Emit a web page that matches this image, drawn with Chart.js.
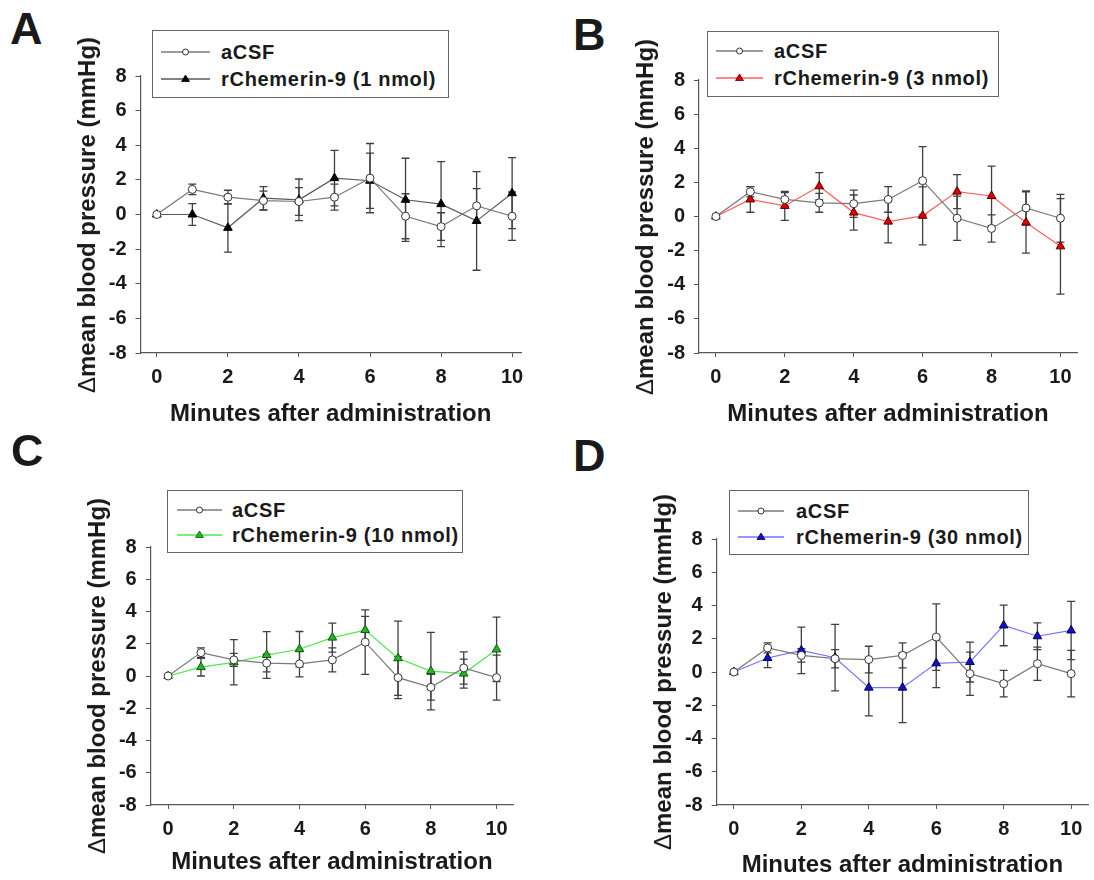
<!DOCTYPE html>
<html>
<head>
<meta charset="utf-8">
<script src="https://cdn.jsdelivr.net/npm/chart.js@4.4.1/dist/chart.umd.min.js"></script>
<style>
  body { margin: 0; background: #fff; }
  #fig { position: relative; width: 1094px; height: 880px; overflow: hidden;
         font-family: "Liberation Sans", Arial, sans-serif; color: #1a1a1a; }
  canvas { position: absolute; }
  .letter { position: absolute; font-weight: bold; font-size: 45px; line-height: 1; }
  .ytitle { position: absolute; font-weight: bold; font-size: 24px; white-space: nowrap;
            transform: translate(-50%, -50%) rotate(-90deg); line-height: 1; }
  .ytitle .d { font-weight: normal; }
  .legend { position: absolute; box-sizing: border-box; border: 1.5px solid #666; background: #fff; }
  .legend .row { position: absolute; left: 0; right: 0; height: 24px; margin-top: -12px; }
  .legend svg { position: absolute; top: 5px; }
  .legend span { position: absolute; top: 0; line-height: 24px; font-weight: bold;
                 font-size: 20px; letter-spacing: 0.7px; white-space: nowrap; }
</style>
</head>
<body>
<div id="fig"></div>
<script>
// minutes after administration
const minutes = [0, 1, 2, 3, 4, 5, 6, 7, 8, 9, 10];
const xTicks = [0, 2, 4, 6, 8, 10];
const yTicks = [-8, -6, -4, -2, 0, 2, 4, 6, 8];

// aCSF control (same in every panel)
const acsfMean = [0, 1.45, 1.0, 0.8, 0.75, 1.0, 2.1, -0.1, -0.7, 0.5, -0.1];
const acsfErr  = [0, 0.3, 0.4, 0.55, 0.8, 0.75, 2.0, 1.3, 0.8, 1.0, 1.4];

// rChemerin-9 doses
const chem1Mean  = [0, 0.0, -0.77, 0.94, 0.85, 2.1, 1.95, 0.85, 0.6, -0.37, 1.23];
const chem1Err   = [0, 0.63, 1.4, 0.67, 1.2, 1.6, 1.6, 2.4, 2.45, 2.85, 2.05];
const chem3Mean  = [0, 1.0, 0.62, 1.77, 0.23, -0.3, 0.04, 1.46, 1.2, -0.35, -1.75];
const chem3Err   = [0, 0.75, 0.85, 0.8, 1.03, 1.25, 1.7, 1.0, 1.75, 1.8, 2.8];
const chem10Mean = [0, 0.55, 0.85, 1.3, 1.66, 2.38, 2.85, 1.1, 0.3, 0.15, 1.65];
const chem10Err  = [0, 0.55, 1.4, 1.45, 1.1, 0.9, 0.85, 2.3, 2.4, 0.9, 2.0];
const chem30Mean = [0, 0.84, 1.3, 0.86, -0.94, -0.94, 0.52, 0.6, 2.8, 2.15, 2.5];
const chem30Err  = [0, 0.58, 1.4, 2.0, 1.7, 2.1, 1.46, 1.2, 1.22, 0.8, 1.75];

const FONT = '"Liberation Sans", Arial, sans-serif';
const fig = document.getElementById('fig');

const acsfStyle = { label: 'aCSF', line: '#7a7a7a', fill: '#ffffff', edge: '#333333', shape: 'circle', r: 4 };

const panels = [
  { letter: 'A', lx: 10, ly: 6, left: 0, top: 0, w: 550, h: 430,
    area: { l: 140.5, t: 76, r: 521, b: 353 }, xMin: -0.46, xMax: 10.25, xTitlePad: 1,
    legend: { x: 152, y: 30, w: 297, h: 68, rows: [21, 48], lineX: 8, lineW: 49, textX: 68 },
    mean: chem1Mean, err: chem1Err,
    style: { label: 'rChemerin-9 (1 nmol)', line: '#5a5a5a', fill: '#000000', edge: '#000000', shape: 'triangle', r: 5 } },
  { letter: 'B', lx: 573, ly: 12, left: 550, top: 0, w: 544, h: 430,
    area: { l: 149, t: 80, r: 527, b: 353 }, xMin: -0.49, xMax: 10.48, xTitlePad: 1,
    legend: { x: 707, y: 31, w: 292, h: 66, rows: [19, 46], lineX: 8, lineW: 47, textX: 66 },
    mean: chem3Mean, err: chem3Err,
    style: { label: 'rChemerin-9 (3 nmol)', line: '#ff6060', fill: '#e00000', edge: '#500000', shape: 'triangle', r: 5 } },
  { letter: 'C', lx: 11, ly: 428, left: 0, top: 440, w: 550, h: 440,
    area: { l: 150.7, t: 107, r: 513, b: 365 }, xMin: -0.53, xMax: 10.5, xTitlePad: 3,
    legend: { x: 167, y: 490, w: 296, h: 63, rows: [19, 44], lineX: 9, lineW: 45, textX: 64 },
    mean: chem10Mean, err: chem10Err,
    style: { label: 'rChemerin-9 (10 nmol)', line: '#4ee84e', fill: '#22b822', edge: '#145214', shape: 'triangle', r: 5 } },
  { letter: 'D', lx: 573, ly: 433, left: 550, top: 440, w: 544, h: 440,
    area: { l: 166.7, t: 99, r: 538, b: 365 }, xMin: -0.51, xMax: 10.5, xTitlePad: 0,
    legend: { x: 729, y: 490, w: 300, h: 65, rows: [20, 46], lineX: 8, lineW: 46, textX: 66 },
    mean: chem30Mean, err: chem30Err,
    style: { label: 'rChemerin-9 (30 nmol)', line: '#7474ff', fill: '#1010c8', edge: '#000050', shape: 'triangle', r: 5 } }
];

// error bars drawn under the markers, through the chart's own scales
const errorBars = {
  id: 'errorBars',
  beforeDatasetsDraw(chart) {
    const { ctx, scales: { x, y } } = chart;
    ctx.save();
    ctx.strokeStyle = '#404040';
    ctx.lineWidth = 1.3;
    chart.data.datasets.forEach(ds => {
      ds.data.forEach((pt, i) => {
        const e = ds.errors[i];
        if (!e) return;
        const px = x.getPixelForValue(pt.x);
        const y1 = y.getPixelForValue(pt.y + e);
        const y2 = y.getPixelForValue(pt.y - e);
        ctx.beginPath();
        ctx.moveTo(px, y1); ctx.lineTo(px, y2);
        ctx.moveTo(px - 4, y1); ctx.lineTo(px + 4, y1);
        ctx.moveTo(px - 4, y2); ctx.lineTo(px + 4, y2);
        ctx.stroke();
      });
    });
    ctx.restore();
  }
};

function dataset(mean, err, st) {
  return {
    label: st.label,
    data: minutes.map((m, i) => ({ x: m, y: mean[i] })),
    errors: err,
    borderColor: st.line,
    borderWidth: 1.2,
    tension: 0,
    pointStyle: st.shape,
    pointRadius: st.r,
    pointBackgroundColor: st.fill,
    pointBorderColor: st.edge,
    pointBorderWidth: 1
  };
}

function markerSvg(st, w) {
  const c = w / 2;
  let mark;
  if (st.shape === 'circle') {
    mark = `<circle cx="${c}" cy="7" r="3" fill="${st.fill}" stroke="${st.edge}" stroke-width="1"/>`;
  } else {
    mark = `<polygon points="${c},3 ${c + 4},9.5 ${c - 4},9.5" fill="${st.fill}" stroke="${st.edge}" stroke-width="0.8"/>`;
  }
  return `<svg width="${w}" height="14"><line x1="0" y1="7" x2="${w}" y2="7" stroke="${st.line}" stroke-width="1.3"/>${mark}</svg>`;
}

panels.forEach(p => {
  const letter = document.createElement('div');
  letter.className = 'letter';
  letter.style.left = p.lx + 'px';
  letter.style.top = p.ly + 'px';
  letter.textContent = p.letter;
  fig.appendChild(letter);

  const canvas = document.createElement('canvas');
  canvas.width = p.w; canvas.height = p.h;
  canvas.style.left = p.left + 'px';
  canvas.style.top = p.top + 'px';
  fig.appendChild(canvas);

  const yt = document.createElement('div');
  yt.className = 'ytitle';
  yt.style.left = (p.left + p.area.l - 54) + 'px';
  yt.style.top = (p.top + (p.area.t + p.area.b) / 2) + 'px';
  yt.innerHTML = '<span class="d">\u0394</span>mean blood pressure (mmHg)';
  fig.appendChild(yt);

  const lg = p.legend;
  const box = document.createElement('div');
  box.className = 'legend';
  Object.assign(box.style, { left: lg.x + 'px', top: lg.y + 'px', width: lg.w + 'px', height: lg.h + 'px' });
  [acsfStyle, p.style].forEach((st, k) => {
    const row = document.createElement('div');
    row.className = 'row';
    row.style.top = lg.rows[k] + 'px';
    row.innerHTML = markerSvg(st, lg.lineW).replace('<svg', `<svg style="left:${lg.lineX}px"`) +
      `<span style="left:${lg.textX}px">${st.label}</span>`;
    box.appendChild(row);
  });
  fig.appendChild(box);

  const a = p.area;
  const tickFont = { family: FONT, size: 20, weight: 'bold' };
  new Chart(canvas, {
    type: 'line',
    data: { datasets: [dataset(acsfMean, acsfErr, acsfStyle), dataset(p.mean, p.err, p.style)] },
    options: {
      responsive: false,
      animation: false,
      devicePixelRatio: 1,
      layout: { padding: { left: 0, top: a.t, right: p.w - a.r, bottom: 0 } },
      plugins: { legend: { display: false }, tooltip: { enabled: false } },
      scales: {
        x: {
          type: 'linear', min: p.xMin, max: p.xMax,
          afterBuildTicks: s => { s.ticks = xTicks.map(v => ({ value: v })); },
          afterFit: s => { s.height = p.h - a.b; },
          grid: { drawOnChartArea: false, drawTicks: true, tickLength: 4, color: '#555' },
          border: { color: '#555', width: 1.2 },
          ticks: { font: tickFont, color: '#1a1a1a', padding: 8, maxRotation: 0 },
          title: { display: true, text: 'Minutes after administration', color: '#1a1a1a',
                   font: { family: FONT, size: 24, weight: 'bold' }, padding: { top: 0, bottom: p.xTitlePad } }
        },
        y: {
          type: 'linear', min: -8, max: 8,
          afterBuildTicks: s => { s.ticks = yTicks.map(v => ({ value: v })); },
          afterFit: s => { s.width = a.l; },
          grid: { drawOnChartArea: false, drawTicks: true, tickLength: 5, color: '#555' },
          border: { color: '#555', width: 1.2 },
          ticks: { font: tickFont, color: '#1a1a1a', padding: 9 }
        }
      }
    },
    plugins: [errorBars]
  });
});
</script>
</body>
</html>
